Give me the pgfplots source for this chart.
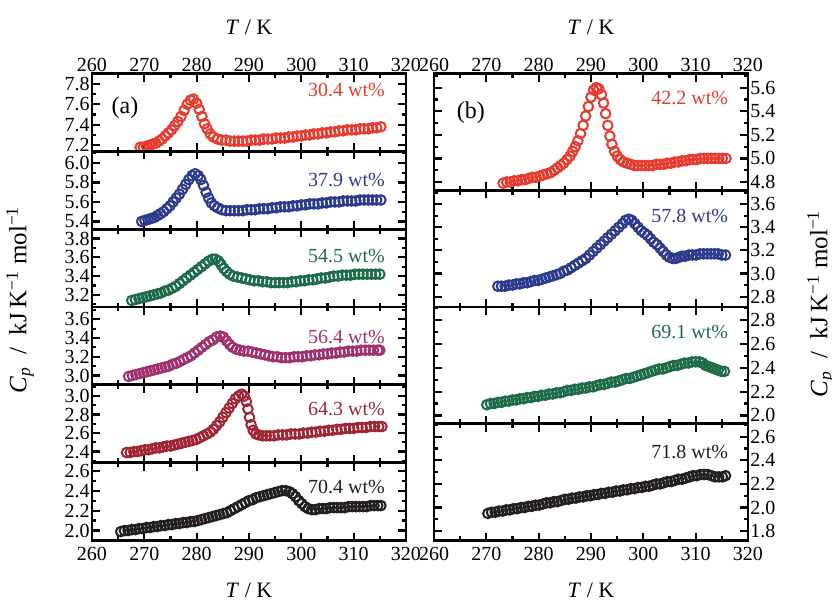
\documentclass[border=0pt]{standalone}
\usepackage{fontspec}
\setmainfont{Liberation Serif}
\usepackage{pgfplots}
\pgfplotsset{compat=1.18}

\definecolor{cpred}{HTML}{E63B2E}
\definecolor{cpblue}{HTML}{2C3A8E}
\definecolor{cpgreen}{HTML}{1E6B4A}
\definecolor{cpplum}{HTML}{A0306E}
\definecolor{cpwine}{HTML}{A02535}
\definecolor{cpblack}{HTML}{231F20}

\tikzset{tag/.style={anchor=east, font=\fontsize{10}{10}\selectfont}}
\pgfplotsset{
  cpbase/.style={
    scale only axis, width=157pt,
    xmin=260, xmax=320, xtick={260,270,...,320}, minor x tick num=1,
    ytick distance=0.2, minor y tick num=1,
    tick align=inside, xtick pos=both, ytick pos=both,
    axis line style={line width=1.4pt},
    major tick length=4pt, minor tick length=2.2pt,
    every tick/.append style={line width=1.1pt, black},
    tick label style={font=\fontsize{10}{10}\selectfont},
    /pgf/number format/assume math mode=true,
    yticklabel style={/pgf/number format/fixed, /pgf/number format/fixed zerofill,
      /pgf/number format/precision=1, inner xsep=1pt},
    label style={font=\fontsize{11}{11}\selectfont},
  },
  colA/.style={cpbase, height=38.92pt},
  colB/.style={cpbase, height=58.38pt, yticklabel pos=right},
  toprow/.style={xticklabel pos=upper, xticklabel style={yshift=-2.6pt},
    xlabel={\textit{T} / K},
    xlabel style={at={(rel axis cs:0.5,1)}, anchor=center, yshift=23pt}},
  midrow/.style={xticklabels={}},
  botrow/.style={xticklabel pos=lower, xlabel={\textit{T} / K},
    xlabel style={at={(rel axis cs:0.5,0)}, anchor=center, yshift=-25pt}},
  cpmarks/.style={only marks, mark=o, mark size=2.4pt, line width=1pt},
}

\begin{document}
\begin{tikzpicture}
\useasboundingbox (0,0) rectangle (416pt,-301pt);

% ---- column (a) ----
\begin{axis}[colA, toprow, at={(46pt,-36.75pt)}, anchor=north west, ymin=7.14, ymax=7.90]
\addplot[cpmarks, cpred] coordinates {
(269.2,7.18)(269.8,7.18)(270.4,7.19)(271.0,7.20)(271.6,7.21)(272.2,7.22)(272.8,7.24)(273.4,7.26)
(274.0,7.29)(274.6,7.32)(275.2,7.35)(275.8,7.39)(276.4,7.43)(277.0,7.48)(277.6,7.54)(278.2,7.60)
(278.8,7.64)(279.4,7.65)(280.0,7.61)(280.5,7.55)(281.0,7.48)(281.5,7.41)(282.0,7.36)(282.6,7.31)
(283.2,7.28)(284.0,7.26)(284.8,7.25)(285.6,7.25)(286.4,7.24)(287.2,7.24)(288.0,7.24)(288.8,7.24)
(289.6,7.24)(290.4,7.25)(291.2,7.25)(292.0,7.25)(292.8,7.26)(293.6,7.26)(294.4,7.26)(295.2,7.27)
(296.0,7.27)(296.8,7.27)(297.6,7.28)(298.4,7.28)(299.2,7.29)(300.0,7.29)(300.8,7.30)(301.6,7.30)
(302.4,7.31)(303.2,7.31)(304.0,7.32)(304.8,7.32)(305.6,7.33)(306.4,7.33)(307.2,7.34)(308.0,7.34)
(308.8,7.35)(309.6,7.35)(310.4,7.35)(311.2,7.36)(312.0,7.36)(312.8,7.36)(313.6,7.37)(314.4,7.37)
(315.2,7.38)};
\node[tag, text=cpred] at (rel axis cs:0.955,0.79) {30.4 wt\%};
\node[anchor=west, font=\fontsize{12}{12}\selectfont] at (rel axis cs:0.04,0.56) {(a)};
\end{axis}

\begin{axis}[colA, midrow, at={(46pt,-75.67pt)}, anchor=north west, ymin=5.32, ymax=6.12]
\addplot[cpmarks, cpblue] coordinates {
(269.5,5.40)(270.1,5.41)(270.7,5.42)(271.3,5.43)(271.9,5.44)(272.5,5.46)(273.1,5.48)(273.7,5.50)
(274.3,5.53)(274.9,5.56)(275.5,5.60)(276.1,5.64)(276.7,5.68)(277.3,5.73)(277.9,5.78)(278.5,5.83)
(279.1,5.87)(279.7,5.89)(280.3,5.87)(280.8,5.83)(281.3,5.77)(281.8,5.70)(282.3,5.64)(282.8,5.59)
(283.4,5.56)(284.0,5.54)(284.8,5.52)(285.6,5.51)(286.4,5.51)(287.2,5.51)(288.0,5.51)(288.8,5.51)
(289.6,5.52)(290.4,5.52)(291.2,5.52)(292.0,5.53)(292.8,5.53)(293.6,5.53)(294.4,5.54)(295.2,5.54)
(296.0,5.55)(296.8,5.55)(297.6,5.55)(298.4,5.56)(299.2,5.56)(300.0,5.57)(300.8,5.57)(301.6,5.58)
(302.4,5.58)(303.2,5.58)(304.0,5.59)(304.8,5.59)(305.6,5.60)(306.4,5.60)(307.2,5.60)(308.0,5.61)
(308.8,5.61)(309.6,5.61)(310.4,5.61)(311.2,5.62)(312.0,5.62)(312.8,5.62)(313.6,5.62)(314.4,5.62)
(315.2,5.62)};
\node[tag, text=cpblue] at (rel axis cs:0.955,0.63) {37.9 wt\%};
\end{axis}

\begin{axis}[colA, midrow, at={(46pt,-114.59pt)}, anchor=north west, ymin=3.07, ymax=3.90]
\addplot[cpmarks, cpgreen] coordinates {
(267.6,3.14)(268.3,3.15)(269.0,3.16)(269.7,3.17)(270.4,3.18)(271.1,3.19)(271.8,3.20)(272.5,3.21)
(273.2,3.22)(273.9,3.24)(274.6,3.25)(275.3,3.27)(276.0,3.29)(276.7,3.32)(277.4,3.35)(278.1,3.38)
(278.8,3.41)(279.5,3.44)(280.2,3.47)(280.9,3.50)(281.6,3.53)(282.3,3.56)(283.0,3.58)(283.6,3.58)
(284.2,3.56)(284.7,3.52)(285.2,3.48)(285.7,3.45)(286.3,3.42)(287.0,3.40)(287.8,3.39)(288.6,3.38)
(289.4,3.37)(290.2,3.36)(291.0,3.35)(291.8,3.35)(292.6,3.34)(293.4,3.34)(294.2,3.33)(295.0,3.33)
(295.8,3.33)(296.6,3.33)(297.4,3.33)(298.2,3.34)(299.0,3.34)(299.8,3.35)(300.6,3.35)(301.4,3.36)
(302.2,3.36)(303.0,3.37)(303.8,3.38)(304.6,3.38)(305.4,3.39)(306.2,3.40)(307.0,3.40)(307.8,3.41)
(308.6,3.41)(309.4,3.41)(310.2,3.42)(311.0,3.42)(311.8,3.42)(312.6,3.42)(313.4,3.42)(314.2,3.42)
(315.0,3.42)};
\node[tag, text=cpgreen] at (rel axis cs:0.955,0.65) {54.5 wt\%};
\end{axis}

\begin{axis}[colA, midrow, at={(46pt,-153.51pt)}, anchor=north west, ymin=2.90, ymax=3.73]
\addplot[cpmarks, cpplum] coordinates {
(267.0,2.99)(267.7,3.00)(268.4,3.01)(269.1,3.02)(269.8,3.03)(270.5,3.04)(271.2,3.05)(271.9,3.06)
(272.6,3.07)(273.3,3.08)(274.0,3.09)(274.7,3.10)(275.4,3.12)(276.1,3.13)(276.8,3.15)(277.5,3.17)
(278.2,3.19)(278.9,3.21)(279.6,3.24)(280.3,3.27)(281.0,3.30)(281.7,3.33)(282.4,3.36)(283.1,3.38)
(283.8,3.41)(284.5,3.42)(285.1,3.41)(285.7,3.37)(286.3,3.33)(286.9,3.30)(287.6,3.28)(288.3,3.27)
(289.0,3.26)(289.8,3.26)(290.6,3.25)(291.4,3.24)(292.2,3.23)(293.0,3.22)(293.8,3.21)(294.6,3.20)
(295.4,3.20)(296.2,3.19)(297.0,3.19)(297.8,3.19)(298.6,3.20)(299.4,3.20)(300.2,3.20)(301.0,3.21)
(301.8,3.21)(302.6,3.22)(303.4,3.22)(304.2,3.23)(305.0,3.23)(305.8,3.24)(306.6,3.24)(307.4,3.25)
(308.2,3.25)(309.0,3.26)(309.8,3.26)(310.6,3.26)(311.4,3.27)(312.2,3.27)(313.0,3.27)(313.8,3.27)
(314.6,3.27)(315.0,3.27)};
\node[tag, text=cpplum] at (rel axis cs:0.955,0.61) {56.4 wt\%};
\end{axis}

\begin{axis}[colA, midrow, at={(46pt,-192.43pt)}, anchor=north west, ymin=2.28, ymax=3.12]
\addplot[cpmarks, cpwine] coordinates {
(266.6,2.39)(267.3,2.39)(268.0,2.40)(268.7,2.40)(269.4,2.41)(270.1,2.42)(270.8,2.42)(271.5,2.43)
(272.2,2.44)(272.9,2.44)(273.6,2.45)(274.3,2.46)(275.0,2.46)(275.7,2.47)(276.4,2.48)(277.1,2.49)
(277.8,2.50)(278.5,2.51)(279.2,2.52)(279.9,2.53)(280.6,2.55)(281.3,2.57)(282.0,2.59)(282.6,2.61)
(283.2,2.64)(283.8,2.68)(284.4,2.72)(285.0,2.77)(285.6,2.82)(286.2,2.87)(286.8,2.92)(287.4,2.97)
(288.0,3.00)(288.6,3.02)(289.1,3.00)(289.5,2.94)(289.8,2.86)(290.1,2.77)(290.4,2.69)(290.8,2.63)
(291.3,2.59)(291.9,2.58)(292.6,2.57)(293.3,2.57)(294.0,2.57)(294.8,2.57)(295.6,2.58)(296.4,2.58)
(297.2,2.58)(298.0,2.59)(298.8,2.59)(299.6,2.59)(300.4,2.60)(301.2,2.60)(302.0,2.61)(302.8,2.61)
(303.6,2.62)(304.4,2.62)(305.2,2.63)(306.0,2.63)(306.8,2.64)(307.6,2.64)(308.4,2.65)(309.2,2.65)
(310.0,2.65)(310.8,2.66)(311.6,2.66)(312.4,2.66)(313.2,2.67)(314.0,2.67)(314.8,2.67)(315.4,2.67)};
\node[tag, text=cpwine] at (rel axis cs:0.955,0.69) {64.3 wt\%};
\end{axis}

\begin{axis}[colA, botrow, at={(46pt,-231.35pt)}, anchor=north west, ymin=1.90, ymax=2.68]
\addplot[cpmarks, cpblack] coordinates {
(265.5,1.99)(266.2,2.00)(266.9,2.00)(267.6,2.01)(268.3,2.01)(269.0,2.02)(269.7,2.02)(270.4,2.03)
(271.1,2.03)(271.8,2.04)(272.5,2.04)(273.2,2.05)(273.9,2.05)(274.6,2.06)(275.3,2.06)(276.0,2.07)
(276.7,2.07)(277.4,2.08)(278.1,2.08)(278.8,2.09)(279.5,2.09)(280.2,2.10)(280.9,2.11)(281.6,2.12)
(282.3,2.13)(283.0,2.14)(283.7,2.15)(284.4,2.16)(285.1,2.17)(285.8,2.18)(286.5,2.20)(287.2,2.22)
(287.9,2.24)(288.6,2.26)(289.3,2.28)(290.0,2.30)(290.7,2.31)(291.4,2.33)(292.1,2.34)(292.8,2.35)
(293.5,2.36)(294.2,2.37)(294.9,2.38)(295.6,2.39)(296.3,2.40)(297.0,2.40)(297.7,2.39)(298.3,2.37)
(298.9,2.34)(299.5,2.30)(300.1,2.27)(300.7,2.24)(301.3,2.22)(302.0,2.21)(302.7,2.21)(303.4,2.22)
(304.1,2.22)(304.8,2.22)(305.5,2.23)(306.2,2.23)(306.9,2.23)(307.6,2.23)(308.3,2.23)(309.0,2.24)
(309.7,2.24)(310.4,2.24)(311.1,2.24)(311.8,2.24)(312.5,2.24)(313.2,2.25)(313.9,2.25)(314.6,2.25)
(315.2,2.25)};
\node[tag, text=cpblack] at (rel axis cs:0.955,0.69) {70.4 wt\%};
\end{axis}

% ---- column (b) ----
\begin{axis}[colB, toprow, at={(217pt,-36.75pt)}, anchor=north west, ymin=4.73, ymax=5.72]
\addplot[cpmarks, cpred] coordinates {
(273.2,4.79)(273.9,4.80)(274.6,4.80)(275.3,4.81)(276.0,4.81)(276.7,4.82)(277.4,4.82)(278.1,4.83)
(278.8,4.84)(279.5,4.84)(280.2,4.85)(280.9,4.86)(281.6,4.87)(282.3,4.88)(283.0,4.90)(283.6,4.92)
(284.2,4.94)(284.8,4.96)(285.4,4.99)(286.0,5.02)(286.5,5.06)(287.0,5.10)(287.5,5.15)(288.0,5.21)
(288.5,5.28)(289.0,5.36)(289.5,5.44)(290.0,5.52)(290.5,5.58)(291.0,5.60)(291.5,5.59)(292.0,5.54)
(292.4,5.47)(292.8,5.38)(293.2,5.28)(293.6,5.19)(294.0,5.12)(294.5,5.06)(295.0,5.02)(295.6,4.99)
(296.2,4.97)(296.9,4.96)(297.6,4.95)(298.3,4.94)(299.0,4.94)(299.7,4.94)(300.4,4.94)(301.1,4.94)
(301.8,4.94)(302.5,4.95)(303.2,4.95)(303.9,4.95)(304.6,4.96)(305.3,4.96)(306.0,4.97)(306.7,4.97)
(307.4,4.98)(308.1,4.98)(308.8,4.99)(309.5,4.99)(310.2,4.99)(310.9,5.00)(311.6,5.00)(312.3,5.00)
(313.0,5.00)(313.7,5.00)(314.4,5.00)(315.1,5.00)(315.8,5.00)};
\node[tag, text=cpred] at (rel axis cs:0.959,0.79) {42.2 wt\%};
\node[anchor=west, font=\fontsize{12}{12}\selectfont] at (rel axis cs:0.05,0.665) {(b)};
\end{axis}

\begin{axis}[colB, midrow, at={(217pt,-95.13pt)}, anchor=north west, ymin=2.71, ymax=3.72]
\addplot[cpmarks, cpblue] coordinates {
(272.2,2.89)(272.9,2.89)(273.6,2.89)(274.3,2.90)(275.0,2.90)(275.7,2.91)(276.4,2.91)(277.1,2.92)
(277.8,2.92)(278.5,2.93)(279.2,2.94)(279.9,2.94)(280.6,2.95)(281.3,2.96)(282.0,2.97)(282.7,2.98)
(283.4,2.99)(284.1,3.00)(284.8,3.02)(285.5,3.03)(286.2,3.05)(286.9,3.07)(287.6,3.09)(288.3,3.11)
(289.0,3.13)(289.7,3.16)(290.4,3.19)(291.1,3.22)(291.8,3.25)(292.5,3.28)(293.2,3.31)(293.9,3.34)
(294.6,3.37)(295.3,3.40)(296.0,3.43)(296.6,3.46)(297.2,3.47)(297.8,3.46)(298.4,3.43)(299.0,3.40)
(299.6,3.37)(300.2,3.35)(300.8,3.33)(301.4,3.30)(302.0,3.27)(302.6,3.25)(303.2,3.22)(303.8,3.19)
(304.4,3.16)(305.0,3.14)(305.6,3.13)(306.2,3.13)(306.8,3.14)(307.4,3.15)(308.0,3.15)(308.7,3.16)
(309.4,3.16)(310.1,3.16)(310.8,3.17)(311.5,3.17)(312.2,3.17)(312.9,3.17)(313.6,3.17)(314.3,3.17)
(315.0,3.16)(315.7,3.16)};
\node[tag, text=cpblue] at (rel axis cs:0.959,0.78) {57.8 wt\%};
\end{axis}

\begin{axis}[colB, midrow, at={(217pt,-153.51pt)}, anchor=north west, ymin=1.93, ymax=2.91]
\addplot[cpmarks, cpgreen] coordinates {
(270.1,2.09)(270.8,2.10)(271.5,2.10)(272.2,2.11)(272.9,2.11)(273.6,2.12)(274.3,2.12)(275.0,2.13)
(275.7,2.13)(276.4,2.14)(277.1,2.14)(277.8,2.15)(278.5,2.15)(279.2,2.16)(279.9,2.16)(280.6,2.17)
(281.3,2.17)(282.0,2.18)(282.7,2.18)(283.4,2.19)(284.1,2.19)(284.8,2.20)(285.5,2.21)(286.2,2.21)
(286.9,2.22)(287.6,2.22)(288.3,2.23)(289.0,2.23)(289.7,2.24)(290.4,2.24)(291.1,2.25)(291.8,2.26)
(292.5,2.26)(293.2,2.27)(293.9,2.28)(294.6,2.28)(295.3,2.29)(296.0,2.30)(296.7,2.31)(297.4,2.31)
(298.1,2.32)(298.8,2.33)(299.5,2.34)(300.2,2.35)(300.9,2.36)(301.6,2.37)(302.3,2.38)(303.0,2.39)
(303.7,2.39)(304.4,2.40)(305.1,2.41)(305.8,2.42)(306.5,2.42)(307.2,2.43)(307.9,2.44)(308.6,2.44)
(309.3,2.45)(310.0,2.45)(310.7,2.45)(311.3,2.44)(311.9,2.42)(312.5,2.41)(313.1,2.40)(313.7,2.39)
(314.3,2.38)(314.9,2.37)(315.5,2.37)};
\node[tag, text=cpgreen] at (rel axis cs:0.959,0.785) {69.1 wt\%};
\end{axis}

\begin{axis}[colB, botrow, at={(217pt,-211.89pt)}, anchor=north west, ymin=1.72, ymax=2.71]
\addplot[cpmarks, cpblack] coordinates {
(270.3,1.95)(271.0,1.96)(271.7,1.96)(272.4,1.97)(273.1,1.97)(273.8,1.98)(274.5,1.98)(275.2,1.99)
(275.9,1.99)(276.6,2.00)(277.3,2.00)(278.0,2.01)(278.7,2.01)(279.4,2.02)(280.1,2.02)(280.8,2.03)
(281.5,2.04)(282.2,2.04)(282.9,2.05)(283.6,2.05)(284.3,2.06)(285.0,2.07)(285.7,2.07)(286.4,2.08)
(287.1,2.08)(287.8,2.09)(288.5,2.09)(289.2,2.10)(289.9,2.10)(290.6,2.11)(291.3,2.11)(292.0,2.12)
(292.7,2.12)(293.4,2.13)(294.1,2.13)(294.8,2.14)(295.5,2.14)(296.2,2.15)(296.9,2.15)(297.6,2.16)
(298.3,2.16)(299.0,2.17)(299.7,2.17)(300.4,2.18)(301.1,2.18)(301.8,2.19)(302.5,2.20)(303.2,2.20)
(303.9,2.21)(304.6,2.22)(305.3,2.22)(306.0,2.23)(306.7,2.24)(307.4,2.24)(308.1,2.25)(308.8,2.26)
(309.5,2.27)(310.2,2.27)(310.9,2.28)(311.6,2.28)(312.3,2.28)(313.0,2.27)(313.7,2.26)(314.4,2.26)
(315.1,2.26)(315.7,2.27)};
\node[tag, text=cpblack] at (rel axis cs:0.959,0.76) {71.8 wt\%};
\end{axis}

\node[rotate=90, font=\fontsize{12.5}{12.5}\selectfont] at (10pt,-150pt)
  {\textit{C}\textsubscript{\textit{p}} \ / \ kJ\,K\textsuperscript{−1} mol\textsuperscript{−1}};
\node[rotate=90, font=\fontsize{12.5}{12.5}\selectfont] at (410.5pt,-152pt)
  {\textit{C}\textsubscript{\textit{p}} \ / \ kJ\,K\textsuperscript{−1} mol\textsuperscript{−1}};
\end{tikzpicture}
\end{document}
